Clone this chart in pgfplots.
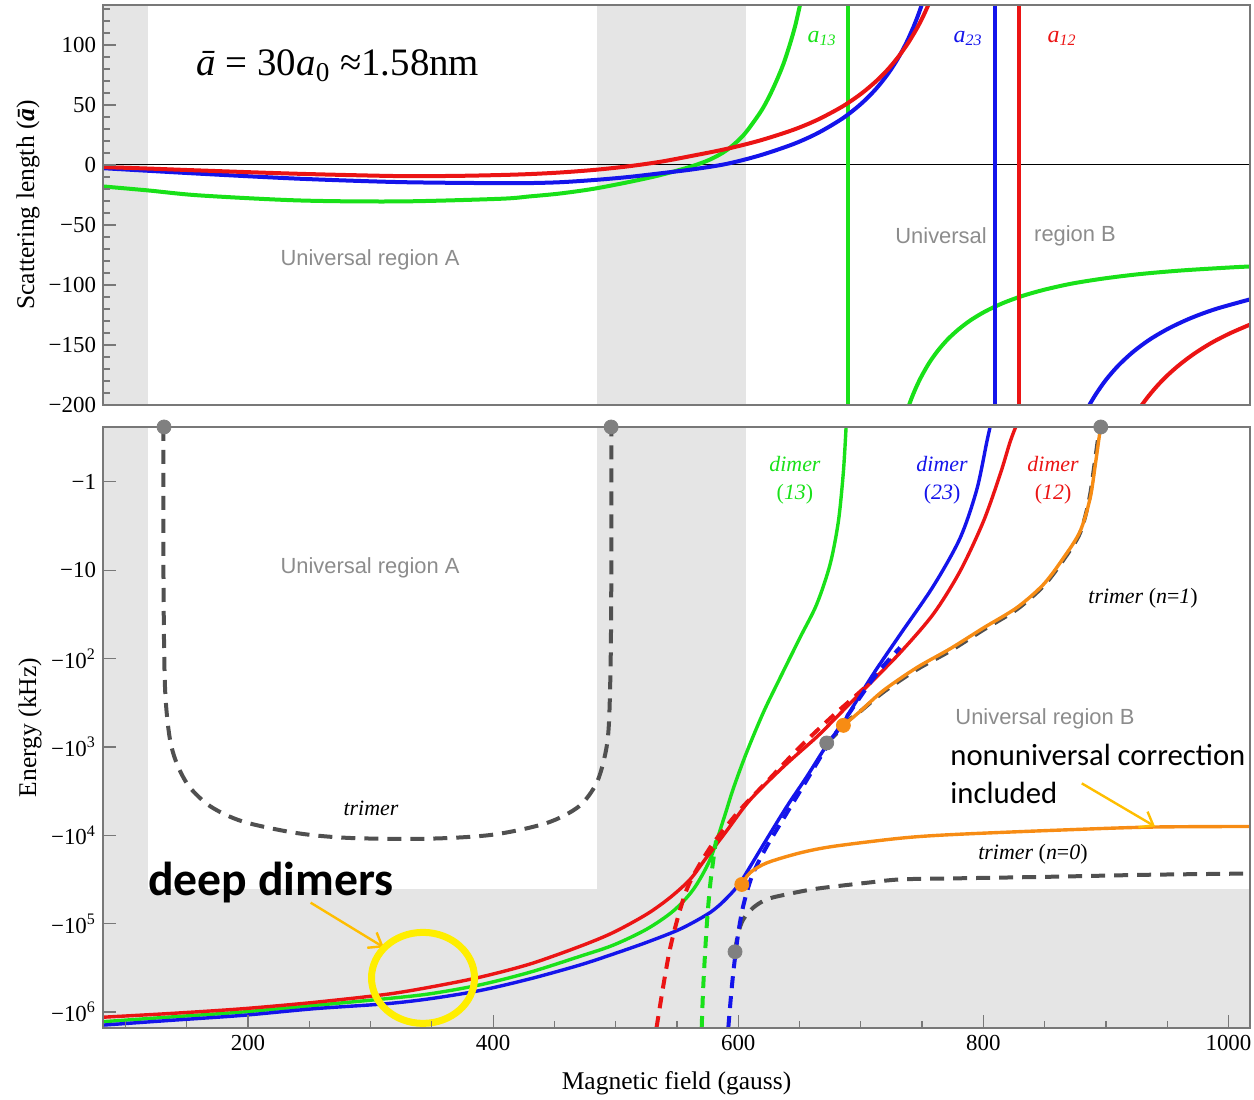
\documentclass[border=0pt]{standalone}
\usepackage{fontspec}
\setmainfont{Liberation Serif}
\newfontfamily\sansf{Liberation Sans}
\newfontfamily\calib{Carlito}
\usepackage{pgfplots}
\pgfplotsset{compat=1.18}
\usetikzlibrary{arrows.meta}
\definecolor{cgreen}{RGB}{25,225,25}
\definecolor{cred}{RGB}{235,20,20}
\definecolor{cblue}{RGB}{20,20,235}
\definecolor{corange}{RGB}{247,140,20}
\definecolor{cdash}{RGB}{80,80,80}
\definecolor{cdot}{RGB}{128,128,128}
\definecolor{shade}{RGB}{229,229,229}
\definecolor{tgrey}{RGB}{140,140,140}
\definecolor{axgrey}{RGB}{120,120,120}
\definecolor{gold}{RGB}{255,190,0}
\definecolor{yel}{RGB}{255,238,0}
\pgfplotsset{
  common/.style={
    scale only axis, width=573.5bp,
    xmin=81.7, xmax=1017.6,
    axis on top,
    axis line style={axgrey, line width=0.7bp},
    tick style={axgrey, line width=0.6bp},
    major tick length=6.5bp, minor tick length=3.5bp,
    tick align=inside,
    xtick pos=left, ytick pos=left,
    tick label style={font=\fontsize{11.5}{12}\selectfont},
    label style={font=\fontsize{12.8}{14}\selectfont},
  },
  sol/.style={line width=2bp, smooth},
  dsh/.style={line width=2bp, smooth, dash pattern=on 6bp off 4bp},
  gdot/.style={only marks, mark=*, mark size=3.5bp, cdot, mark options={draw=cdot, fill=cdot}},
  odot/.style={only marks, mark=*, mark size=3.5bp, corange, mark options={draw=corange, fill=corange}},
}
\begin{document}
\begin{tikzpicture}[x=1bp,y=1bp]
\useasboundingbox (0,0) rectangle (627,550);
% ================= TOP PANEL =================
\begin{axis}[common, at={(51.5bp,347.5bp)}, anchor=south west, height=200bp,
  ymin=-200, ymax=133.3,
  xtick=\empty,
  ytick={-200,-150,-100,-50,0,50,100},
  yticklabels={−200,−150,−100,−50,0,50,100},
  minor ytick={-190,-180,...,130},
  ylabel={Scattering length (\textbf{\textit{ā}})},
  ylabel style={at={(axis description cs:-0.0654,0.5)}, anchor=center},
]
\addplot[fill=shade, draw=none] coordinates {(81.7,-200) (118.7,-200) (118.7,133.3) (81.7,133.3)} -- cycle;
\addplot[fill=shade, draw=none] coordinates {(485,-200) (606,-200) (606,133.3) (485,133.3)} -- cycle;
\addplot[black, line width=0.5bp] coordinates {(81.7,0) (1017.6,0)};
% a13
\addplot[cgreen, sol] coordinates {(81.7,-17.9) (118.7,-21.25) (160.8,-25.4) (242.4,-29.6) (324,-30.4) (405.6,-28.2) (430,-26.2) (454.6,-23.8) (481.8,-19.9) (509,-14.6) (531.7,-9.6) (549.8,-4.8) (563.4,-0.7) (577,4.5) (590.6,12.3) (604.2,24.7) (617.8,43.5) (625,56.5) (631.4,70.5) (637,84.5) (642.3,101) (646.5,116) (650.4,133.3)};
\addplot[cgreen, line width=1.6bp] coordinates {(689.6,-200) (689.6,133.3)};
\addplot[cgreen, sol] coordinates {(739.4,-200) (742,-192.9) (746,-183.4) (750,-175.2) (756,-164.6) (763,-154.6) (771,-145.2) (780,-136.8) (790,-129.1) (802,-121.8) (816,-115.1) (832,-109.1) (850,-103.9) (872,-98.9) (898,-94.65) (928,-90.9) (962,-87.9) (1000,-85.5) (1017.6,-84.6)};
% a23
\addplot[cblue, sol] coordinates {(81.7,-2.7) (160.8,-7.3) (242.4,-11.5) (324,-14.3) (405.6,-15.2) (430,-15.1) (454.6,-14.4) (481.8,-12.6) (509,-10.2) (536.2,-7.0) (563.4,-3.6) (590.6,0.9) (617.8,8.0) (645,17.4) (665,26.6) (685,38.7) (700,50.7) (712,62.9) (722,75.7) (730,88.2) (737,101.4) (743,115) (747,125.4) (749.7,133.3)};
\addplot[cblue, line width=1.6bp] coordinates {(809.5,-200) (809.5,133.3)};
\addplot[cblue, sol] coordinates {(886.5,-200) (892,-190.7) (900,-179.1) (910,-167.3) (922,-155.9) (936,-145.3) (952,-135.8) (970,-127.3) (990,-119.9) (1017.6,-112)};
% a12
\addplot[cred, sol] coordinates {(81.7,-1.8) (118.7,-3.0) (160.8,-4.6) (242.4,-7.4) (324,-9.3) (370,-9.1) (405.6,-8.4) (430,-7.6) (454.6,-6.3) (481.8,-4.2) (509,-1.3) (536.2,2.6) (563.4,7.8) (590.6,13.4) (617.8,20.4) (645,29.3) (665,37.8) (685,48.7) (700,59.1) (712,69.3) (722,79.5) (731,90.6) (739,102.2) (746,114.2) (751,124.1) (755.1,133.3)};
\addplot[cred, line width=1.6bp] coordinates {(829.1,-200) (829.1,133.3)};
\addplot[cred, sol] coordinates {(929.3,-200) (935,-192.3) (942,-183.9) (950,-175.5) (960,-166.5) (972,-157.3) (986,-148.3) (1001,-140.4) (1017.6,-133)};
% labels
\node[font=\fontsize{19.5}{21}\selectfont] at (axis cs:273.4,82.9) {\textit{ā} = 30\textit{a}\textsubscript{0} ≈1.58nm};
\node[text=cgreen, font=\fontsize{12}{13}\selectfont] at (axis cs:668.4,105.4) {\textit{a}\textsubscript{\textit{13}}};
\node[text=cblue, font=\fontsize{12}{13}\selectfont] at (axis cs:787.5,105.4) {\textit{a}\textsubscript{\textit{23}}};
\node[text=cred, font=\fontsize{12}{13}\selectfont] at (axis cs:864.2,105.4) {\textit{a}\textsubscript{\textit{12}}};
\node[text=tgrey, font=\sansf\fontsize{11}{12}\selectfont] at (axis cs:299.6,-78.75) {Universal region A};
\node[text=tgrey, font=\sansf\fontsize{11}{12}\selectfont] at (axis cs:765.5,-58.75) {Universal};
\node[text=tgrey, font=\sansf\fontsize{11}{12}\selectfont] at (axis cs:874.8,-58.75) {region B};
\end{axis}
% ================= BOTTOM PANEL =================
\begin{axis}[common, at={(51.5bp,36bp)}, anchor=south west, height=300.5bp,
  ymin=-6.18, ymax=0.62,
  xtick={200,400,600,800,1000}, xticklabels={200,400,600,800,1000},
  minor xtick={100,150,...,1000},
  ytick={-6,-5,-4,-3,-2,-1,0},
  yticklabels={−10\textsuperscript{6},−10\textsuperscript{5},−10\textsuperscript{4},−10\textsuperscript{3},−10\textsuperscript{2},−10,−1},
  xlabel={Magnetic field (gauss)},
  xlabel style={at={(axis description cs:0.5,-0.0915)}, anchor=center},
  ylabel={Energy (kHz)},
  ylabel style={at={(axis description cs:-0.0636,0.5)}, anchor=center},
]
\addplot[fill=shade, draw=none] coordinates {(81.7,-6.18) (118.7,-6.18) (118.7,0.62) (81.7,0.62)} -- cycle;
\addplot[fill=shade, draw=none] coordinates {(485,-6.18) (606,-6.18) (606,0.62) (485,0.62)} -- cycle;
\addplot[fill=shade, draw=none] coordinates {(81.7,-6.18) (1017.6,-6.18) (1017.6,-4.61) (81.7,-4.61)} -- cycle;
% trimer region A
\addplot[cdash, dsh, dash pattern=on 7bp off 4.5bp] coordinates {(131.0,0.62) (131.1,-1.2) (132.3,-2.325) (136.0,-2.887) (141.9,-3.187) (152.1,-3.45) (169.6,-3.675) (195.8,-3.844) (239.5,-3.974) (283.2,-4.03) (347.4,-4.038) (399.8,-3.993) (443.5,-3.862) (469.8,-3.675) (484.3,-3.412) (491.6,-3.074) (494.5,-2.737) (496.0,-1.949) (496.5,-0.824) (496.5,0.62)};
% trimer n=0 universal
\addplot[cdash, dsh, dash pattern=on 7bp off 4.5bp] coordinates {(597.4,-5.317) (600.1,-5.099) (604.2,-4.949) (612.3,-4.818) (623.3,-4.724) (639.6,-4.668) (664,-4.604) (704.9,-4.537) (732,-4.499) (772.8,-4.488) (854.4,-4.469) (936,-4.446) (1020,-4.432)};
% trimer n=1 universal
\addplot[cdash, dsh, dash pattern=on 7bp off 4.5bp] coordinates {(672.2,-2.955) (680,-2.85) (690,-2.7) (699.4,-2.6) (718.4,-2.38) (745.6,-2.125) (772.8,-1.915) (800,-1.675) (827.2,-1.445) (849,-1.18) (865.3,-0.885) (878.9,-0.58) (886.5,-0.19) (890.6,0.19) (893.6,0.487) (895.6,0.62)};
% dimers solid
\addplot[cgreen, sol, line width=1.7bp] coordinates {(79.2,-6.111) (137.5,-6.055) (195.8,-5.999) (253.9,-5.925) (312.4,-5.849) (348.5,-5.793) (389.3,-5.692) (430.1,-5.549) (470.9,-5.369) (498.1,-5.242) (525.3,-5.062) (547.0,-4.856) (563.4,-4.612) (577.0,-4.274) (587.9,-3.825) (596.0,-3.47) (606.9,-3.06) (620.5,-2.61) (634.1,-2.22) (650.4,-1.763) (664.0,-1.387) (674.9,-0.937) (681.7,-0.45) (685.8,0.112) (688.0,0.62)};
\addplot[cblue, sol, line width=1.7bp] coordinates {(79.2,-6.15) (137.5,-6.093) (195.8,-6.037) (253.9,-5.962) (312.4,-5.906) (348.5,-5.849) (389.3,-5.756) (430.1,-5.624) (470.9,-5.467) (498.1,-5.343) (525.3,-5.211) (552.5,-5.062) (574.3,-4.898) (585,-4.786) (596.0,-4.632) (602.9,-4.508) (609.6,-4.357) (623.3,-4.042) (639.6,-3.675) (655.9,-3.337) (672.2,-2.981) (685.8,-2.722) (691.2,-2.6) (710.2,-2.175) (732,-1.73) (759.2,-1.18) (781,-0.638) (794.6,-0.09) (802.8,0.45) (805.5,0.62)};
\addplot[cred, sol, line width=1.7bp] coordinates {(79.2,-6.06) (137.5,-6.015) (195.8,-5.962) (253.9,-5.89) (312.4,-5.8) (348.5,-5.718) (389.3,-5.605) (430.1,-5.456) (470.9,-5.256) (498.1,-5.099) (525.3,-4.893) (544.3,-4.705) (560.7,-4.499) (572.9,-4.274) (590.9,-3.943) (609.6,-3.6) (636.8,-3.225) (664,-2.888) (677.6,-2.7) (691.2,-2.508) (704.9,-2.317) (732,-1.935) (759.2,-1.496) (781,-1.012) (800,-0.45) (813.6,0.079) (821.8,0.45) (826.4,0.62)};
% dimers dashed (universal)
\addplot[cred, dsh] coordinates {(533.3,-6.18) (538.9,-5.7) (544.3,-5.287) (551.1,-4.912) (558.0,-4.612) (566.1,-4.387) (579.7,-4.087) (601.5,-3.712) (623.3,-3.394) (650.4,-3.0) (677.6,-2.643) (704.9,-2.306) (732,-1.912)};
\addplot[cgreen, dsh] coordinates {(570.2,-6.18) (571.5,-5.7) (574.3,-5.025) (577.0,-4.575) (579.7,-4.274) (581.9,-4.06)};
\addplot[cblue, dsh] coordinates {(591.9,-6.18) (593.9,-5.849) (596,-5.549) (599.3,-5.174) (602.9,-4.874) (606.9,-4.649) (612.3,-4.424) (623.3,-4.125) (639.6,-3.749) (655.9,-3.375) (672.2,-3.0) (693.9,-2.55) (713,-2.174) (732,-1.875)};
% corrected trimers
\addplot[corange, sol, line width=1.7bp] coordinates {(685.8,-2.756) (699.4,-2.598) (718.4,-2.362) (745.6,-2.103) (772.8,-1.89) (800,-1.654) (827.2,-1.425) (849,-1.162) (865.3,-0.863) (878.9,-0.562) (887.1,-0.188) (891.3,0.188) (894.3,0.487) (895.8,0.62)};
\addplot[corange, sol, line width=1.7bp] coordinates {(602.9,-4.556) (609.6,-4.424) (623.3,-4.312) (650.4,-4.199) (677.6,-4.125) (732,-4.033) (772.8,-3.993) (854.4,-3.945) (936,-3.907) (1020,-3.9)};
% dots
\addplot[gdot] coordinates {(131.5,0.62) (496.3,0.62) (672.2,-2.955) (597.4,-5.317) (895.8,0.62)};
\addplot[odot] coordinates {(685.8,-2.756) (602.9,-4.556)};
% annotations
\addplot[gold, line width=1.2bp, -{Straight Barb[length=6bp,width=9bp]}] coordinates {(251.1,-4.762) (310.9,-5.268)};
\addplot[gold, line width=1.2bp, -{Straight Barb[length=6bp,width=9bp]}] coordinates {(880.3,-3.412) (940.1,-3.9)};
\draw[yel, line width=3.5bp] (axis cs:342.8,-5.613) ellipse [x radius=25.75bp, y radius=22.75bp];
% labels
\node[text=tgrey, font=\sansf\fontsize{11}{12}\selectfont] at (axis cs:299.6,-0.979) {Universal region A};
\node[text=tgrey, font=\sansf\fontsize{11}{12}\selectfont] at (axis cs:850.3,-2.677) {Universal region B};
\node[text=cgreen, font=\fontsize{11}{12}\selectfont, align=center] at (axis cs:646.3,0.017) {\textit{dimer}\\[2pt](\textit{13})};
\node[text=cblue, font=\fontsize{11}{12}\selectfont, align=center] at (axis cs:766.3,0.017) {\textit{dimer}\\[2pt](\textit{23})};
\node[text=cred, font=\fontsize{11}{12}\selectfont, align=center] at (axis cs:856.9,0.017) {\textit{dimer}\\[2pt](\textit{12})};
\node[font=\fontsize{11}{12}\selectfont] at (axis cs:300.4,-3.7) {\textit{trimer}};
\node[font=\fontsize{11}{12}\selectfont] at (axis cs:930.3,-1.316) {\textit{trimer} (\textit{n}=\textit{1})};
\node[font=\fontsize{11}{12}\selectfont] at (axis cs:840.5,-4.218) {\textit{trimer} (\textit{n}=\textit{0})};
\node[anchor=west, inner sep=0pt, font=\calib\fontsize{15.4}{17}\selectfont] at (axis cs:772.8,-3.093) {nonuniversal correction};
\node[anchor=west, inner sep=0pt, font=\calib\fontsize{15.4}{17}\selectfont] at (axis cs:772.8,-3.521) {included};
\node[anchor=west, inner sep=0pt, font=\calib\bfseries\fontsize{23.9}{26}\selectfont] at (axis cs:118.4,-4.533) {deep dimers};
\end{axis}
\end{tikzpicture}
\end{document}
